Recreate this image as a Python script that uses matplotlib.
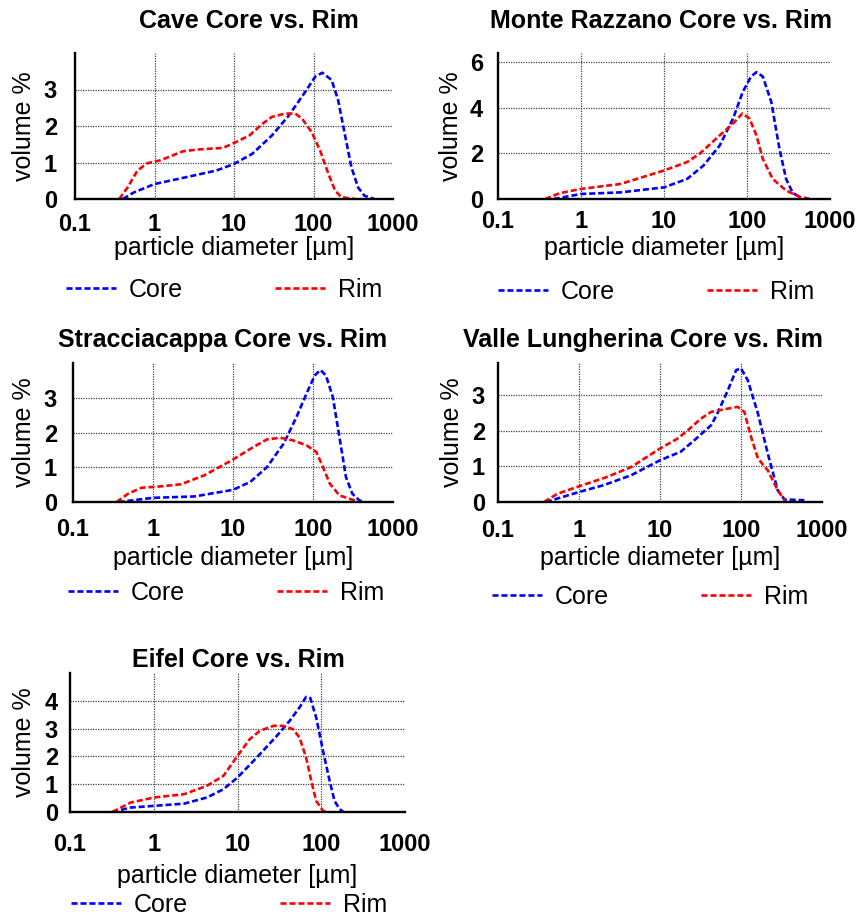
import numpy as np
import matplotlib
matplotlib.use('Agg')
import matplotlib.pyplot as plt
from matplotlib.lines import Line2D

plt.rcParams['font.family'] = ['Liberation Sans', 'DejaVu Sans']

# tick values / labels shared by all panels
x_ticks = [0.1, 1, 10, 100, 1000]
x_tick_labels = ['0.1', '1', '10', '100', '1000']

# Cave
cave_core_x = [0.40, 0.55, 1.0, 2.3, 6, 10, 17, 30, 49, 79, 105, 129, 169, 204, 247, 300, 363,
               437, 585]
cave_core_y = [0, 0.18, 0.41, 0.58, 0.78, 0.96, 1.24, 1.74, 2.29, 2.94, 3.35, 3.46, 3.26, 2.71,
               1.79, 0.87, 0.32, 0.09, 0]
cave_rim_x = [0.36, 0.46, 0.61, 0.81, 1.19, 2.3, 3.7, 7.3, 10.6, 15.6, 22.8, 30, 44, 59, 72, 95,
              121, 154, 187, 224, 330]
cave_rim_y = [0, 0.32, 0.78, 0.98, 1.06, 1.31, 1.36, 1.4, 1.56, 1.74, 2.06, 2.25, 2.34, 2.34, 2.2,
              1.83, 1.33, 0.69, 0.23, 0.05, 0]

# Monte Razzano
mr_core_x = [0.47, 1, 3, 10, 19, 30, 47, 68, 89, 112, 130, 155, 196, 246, 296, 356, 447]
mr_core_y = [0, 0.22, 0.29, 0.51, 0.88, 1.47, 2.35, 3.53, 4.7, 5.37, 5.56, 5.37, 4.26, 2.2, 0.88,
             0.26, 0.07]
mr_rim_x = [0.37, 0.56, 1, 3, 10, 19, 27, 47, 68, 88, 107, 130, 155, 204, 296, 447, 560]
mr_rim_y = [0, 0.26, 0.44, 0.66, 1.25, 1.62, 1.99, 2.79, 3.31, 3.75, 3.53, 2.79, 1.76, 0.88, 0.37,
            0.07, 0.02]

# Stracciacappa
st_core_x = [0.37, 1, 3.3, 10, 16.5, 26.5, 43, 62, 83, 105, 124, 145, 177, 214, 258, 310, 378, 430]
st_core_y = [0, 0.12, 0.16, 0.35, 0.58, 1.0, 1.68, 2.44, 3.12, 3.64, 3.8, 3.64, 3.02, 1.87, 0.72,
             0.24, 0.05, 0]
st_rim_x = [0.35, 0.49, 0.72, 1.27, 2.24, 4.4, 10, 16.5, 26.5, 39, 57, 83, 110, 133, 162, 214, 345]
st_rim_y = [0, 0.24, 0.41, 0.45, 0.51, 0.77, 1.22, 1.53, 1.8, 1.85, 1.77, 1.63, 1.44, 1.01, 0.53,
            0.19, 0.03]

# Valle Lungherina
vl_core_x = [0.39, 1, 2.0, 4.4, 10, 18, 26.5, 43, 51, 69, 87, 100, 121, 162, 214, 284, 345, 605]
vl_core_y = [0, 0.28, 0.47, 0.75, 1.17, 1.41, 1.73, 2.16, 2.48, 3.14, 3.7, 3.75, 3.42, 2.48, 1.36,
             0.33, 0.07, 0.05]
vl_rim_x = [0.37, 0.54, 1, 2.2, 4.4, 10, 16.5, 22, 32, 43, 62, 91, 110, 133, 162, 214, 284, 345]
vl_rim_y = [0, 0.23, 0.44, 0.7, 0.98, 1.5, 1.78, 2.01, 2.34, 2.53, 2.6, 2.67, 2.53, 1.83, 1.22,
            0.89, 0.33, 0.05]

# Eifel
ei_core_x = [0.32, 0.53, 1, 2.3, 4.3, 6.8, 10, 17, 29.5, 42, 55, 66, 74, 87, 105, 126, 144, 166, 185]
ei_core_y = [0, 0.16, 0.22, 0.3, 0.52, 0.82, 1.24, 1.96, 2.74, 3.28, 3.76, 4.14, 4.1, 3.4, 2.2,
             1.12, 0.4, 0.1, 0]
ei_rim_x = [0.32, 0.53, 1, 2.3, 4.3, 6.8, 10, 14, 18.5, 27, 35, 46, 55, 66, 76, 87, 105, 115]
ei_rim_y = [0, 0.34, 0.52, 0.64, 0.94, 1.3, 2.02, 2.62, 2.92, 3.1, 3.1, 2.98, 2.68, 1.96, 1.12,
            0.4, 0.04, 0]

titles = ['Cave Core vs. Rim', 'Monte Razzano Core vs. Rim', 'Stracciacappa Core vs. Rim',
          'Valle Lungherina Core vs. Rim', 'Eifel Core vs. Rim']
y_ticks = [[0, 1, 2, 3], [0, 2, 4, 6], [0, 1, 2, 3], [0, 1, 2, 3], [0, 1, 2, 3, 4]]
y_tops = [4.0, 6.4, 4.0, 3.9, 5.0]
series = [(cave_core_x, cave_core_y, cave_rim_x, cave_rim_y),
          (mr_core_x, mr_core_y, mr_rim_x, mr_rim_y),
          (st_core_x, st_core_y, st_rim_x, st_rim_y),
          (vl_core_x, vl_core_y, vl_rim_x, vl_rim_y),
          (ei_core_x, ei_core_y, ei_rim_x, ei_rim_y)]

W, H = 861, 916
# layout in pixels: axes box (left, right, top, bottom), title centre x / baseline y,
# x / y tick pad, xlabel top, ylabel right edge, legend centre
layout = [
    dict(box=(75, 393, 53, 199), title=(249, 28), xpad=14, ypad=18, xlab=236, ylab=36, leg=(224, 290)),
    dict(box=(498, 830, 53, 199), title=(661, 28), xpad=11, ypad=15, xlab=236, ylab=463, leg=(656, 292)),
    dict(box=(73, 393, 363, 502), title=(223, 347), xpad=16, ypad=16, xlab=546, ylab=36, leg=(226, 593)),
    dict(box=(498, 822, 363, 502), title=(643, 347), xpad=17, ypad=13, xlab=546, ylab=464, leg=(650, 597)),
    dict(box=(70, 405, 673, 812), title=(238, 667), xpad=21, ypad=12, xlab=864, ylab=36, leg=(229, 905)),
]

fig = plt.figure(figsize=(W / 100, H / 100), dpi=100)
dash = (2.3, 1.1)
lw = 1.9

for i, lay in enumerate(layout):
    l, r, t, b = lay['box']
    ax = fig.add_axes([l / W, 1 - b / H, (r - l) / W, (b - t) / H])
    cx, cy, rx, ry = series[i]
    ax.plot(cx, cy, color='#0000ff', lw=lw, dashes=dash)
    ax.plot(rx, ry, color='#ff0000', lw=lw, dashes=dash)

    ax.set_xscale('log')
    ax.set_xlim(0.1, 1000)
    ax.set_ylim(0, y_tops[i])
    ax.set_xticks(x_ticks)
    ax.set_xticklabels(x_tick_labels)
    ax.xaxis.set_minor_locator(matplotlib.ticker.NullLocator())
    ax.set_yticks(y_ticks[i])
    ax.tick_params(length=0, labelsize=17)
    ax.tick_params(axis='x', pad=lay['xpad'] * 0.72)
    ax.tick_params(axis='y', pad=lay['ypad'] * 0.72)
    for lab in ax.get_xticklabels() + ax.get_yticklabels():
        lab.set_fontweight('bold')

    for s in ['top', 'right']:
        ax.spines[s].set_visible(False)
    for s in ['left', 'bottom']:
        ax.spines[s].set_linewidth(1.7)
        ax.spines[s].set_zorder(5)

    # dotted grid, vertical at 1/10/100, horizontal at ticks above 0
    for gx in x_ticks[1:-1]:
        ax.axvline(gx, color='#444444', lw=0.9, ls=(0, (1, 1)), zorder=0)
    for gy in y_ticks[i][1:]:
        ax.axhline(gy, color='#444444', lw=0.9, ls=(0, (1, 1)), zorder=0)

    ax.set_xlabel('particle diameter [µm]', fontsize=18)
    ax.set_ylabel('volume %', fontsize=18)
    ax.xaxis.set_label_coords(0.5, (b - lay['xlab']) / (b - t))
    ax.yaxis.set_label_coords((lay['ylab'] - l) / (r - l), 0.5)

    tx, ty = lay['title']
    fig.text(tx / W, 1 - ty / H, titles[i], fontsize=18, fontweight='bold',
             ha='center', va='baseline')

    handles = [Line2D([], [], color='#0000ff', lw=lw, dashes=dash),
               Line2D([], [], color='#ff0000', lw=lw, dashes=dash)]
    lx, ly = lay['leg']
    ax.legend(handles, ['Core', 'Rim'], ncol=2, frameon=False, fontsize=18,
              loc='center', bbox_to_anchor=(lx / W, 1 - ly / H), bbox_transform=fig.transFigure,
              handlelength=2.0, handletextpad=0.5, columnspacing=3.7, borderpad=0)

fig.savefig('out.png', dpi=100)
